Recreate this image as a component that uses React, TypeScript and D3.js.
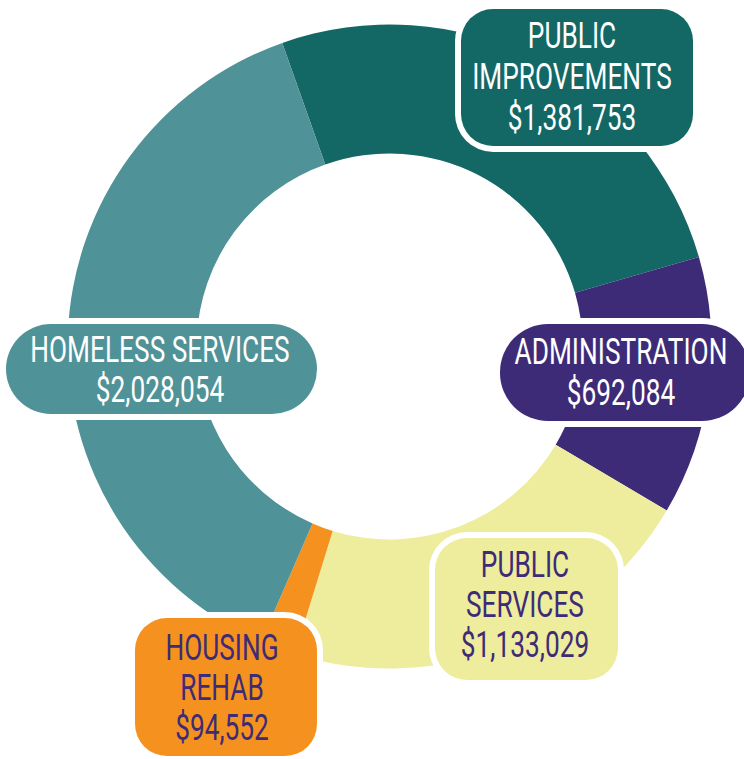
import React from "react";
import * as d3 from "d3";

const categories = ["PUBLIC IMPROVEMENTS", "ADMINISTRATION", "PUBLIC SERVICES", "HOUSING REHAB", "HOMELESS SERVICES"];
const values = [1381753, 692084, 1133029, 94552, 2028054];
const labelLines = [["PUBLIC", "IMPROVEMENTS"], ["ADMINISTRATION"], ["PUBLIC", "SERVICES"], ["HOUSING", "REHAB"], ["HOMELESS SERVICES"]];

const sliceColors = ["#136866", "#3d2b78", "#eeec9d", "#f5921f", "#4f9297"];
const textColors = ["#ffffff", "#ffffff", "#3d2b78", "#3d2b78", "#ffffff"];

// label box layout: x, y, w, h, rx, text centre x, first baseline, line gap
const boxes = [
  { x: 461, y: 9, w: 232, h: 137, rx: 32, cx: 572, b0: 48, gap: 41 },
  { x: 500, y: 324, w: 250, h: 97, rx: 48, cx: 621, b0: 364, gap: 41 },
  { x: 435, y: 538, w: 183, h: 142, rx: 32, cx: 525, b0: 577, gap: 40 },
  { x: 135, y: 618, w: 182, h: 138, rx: 32, cx: 222, b0: 660, gap: 40 },
  { x: 6, y: 324, w: 311, h: 90, rx: 45, cx: 160, b0: 362, gap: 40 },
];

const W = 744, H = 759;
const CX = 389.6, CY = 346.5, R_OUT = 322, R_IN = 193;
const START = (-19.47 * Math.PI) / 180;
const fmt = d3.format("$,");
const SX = 0.71;

export default function App() {
  const pie = d3.pie<number>().sort(null).startAngle(START).endAngle(START + 2 * Math.PI);
  const arcs = pie(values);
  const arc = d3.arc<d3.PieArcDatum<number>>().innerRadius(R_IN).outerRadius(R_OUT);
  const border = 6;
  return (
    <svg width={W} height={H} style={{ position: "absolute", left: 0, top: 0 }}>
      <rect width={W} height={H} fill="#ffffff" />
      <g transform={`translate(${CX},${CY})`}>
        {arcs.map((a, i) => (
          <path key={categories[i]} d={arc(a) || ""} fill={sliceColors[i]} />
        ))}
      </g>
      {boxes.map((b, i) => {
        const lines = [...labelLines[i], fmt(values[i])];
        return (
          <g key={"lbl" + i}>
            <rect x={b.x - border} y={b.y - border} width={b.w + 2 * border} height={b.h + 2 * border} rx={b.rx + border} fill="#ffffff" />
            <rect x={b.x} y={b.y} width={b.w} height={b.h} rx={b.rx} fill={sliceColors[i]} />
            {lines.map((t, j) => (
              <text
                key={j}
                transform={`translate(${b.cx},${b.b0 + j * b.gap}) scale(${SX},1)`}
                textAnchor="middle"
                fontFamily="Roboto, 'Noto Sans', sans-serif"
                fontSize={37}
                fill={textColors[i]}
              >
                {t}
              </text>
            ))}
          </g>
        );
      })}
    </svg>
  );
}
